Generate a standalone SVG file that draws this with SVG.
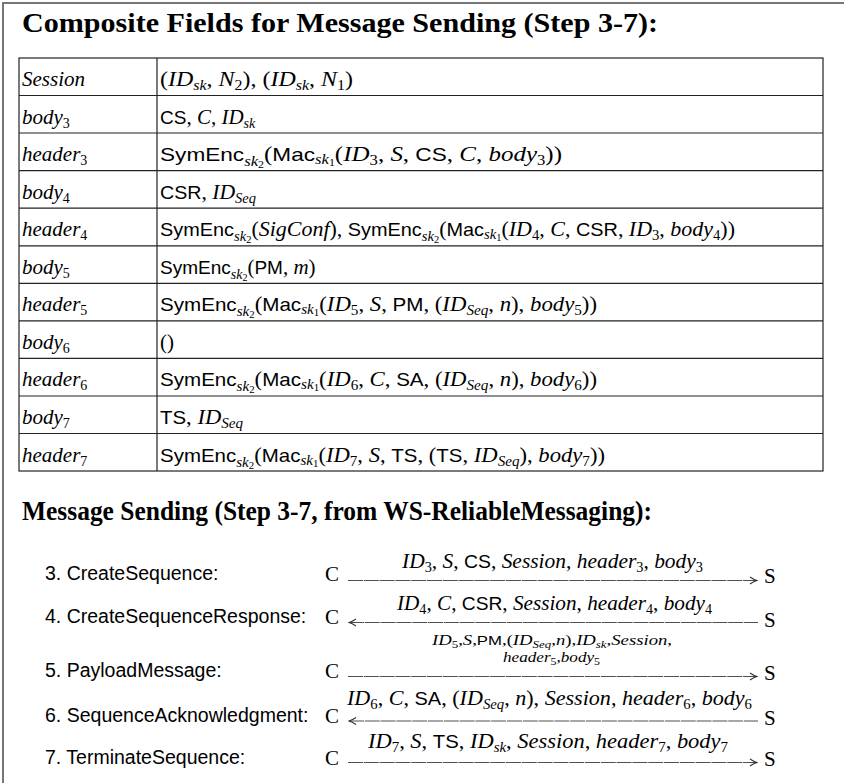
<svg xmlns="http://www.w3.org/2000/svg" width="844" height="783" viewBox="0 0 844 783">
  <style>
    text { font-family: "Liberation Serif", "Times New Roman", serif; font-size: 21px; fill: #000; }
    .i { font-style: italic; }
    .s { font-family: "Liberation Sans", Arial, sans-serif; font-style: normal; font-size: 19px; }
    .b { font-size: 14px; }
    .bb { font-size: 10px; }
    .ttl { font-weight: bold; font-size: 27px; }
    .step { font-family: "Liberation Sans", Arial, sans-serif; font-size: 19.5px; }
    .sm { font-size: 14.5px; }
    .sm .b { font-size: 10px; }
    .sm .s { font-size: 13px; }
    .grid { stroke: #222; stroke-width: 1.2; fill: none; }
    .arrow { stroke: #505050; stroke-width: 1.1; fill: none; stroke-dasharray: 15 0.8; }
  </style>
  <defs>
    <marker id="ah" viewBox="-8 -5 9 10" refX="0" refY="0" markerWidth="9" markerHeight="10" markerUnits="userSpaceOnUse" orient="auto-start-reverse">
      <path d="M-7,-3.5 Q-3,-0.8 0,0 Q-3,0.8 -7,3.5" fill="none" stroke="#333" stroke-width="1.1"/>
    </marker>
  </defs>

  <rect width="844" height="783" fill="#fff"/>
  <!-- outer frame: only its left and top edges fall inside the canvas -->
  <rect id="frame" x="3" y="3" width="860" height="800" fill="none" stroke="#777" stroke-width="2"/>

  <text class="ttl" x="22" y="32" textLength="636" lengthAdjust="spacingAndGlyphs">Composite Fields for Message Sending (Step 3-7):</text>

  <!-- composite field table -->
  <g id="table">
    <rect class="grid" x="19" y="58" width="804" height="413"/>
    <line class="grid" x1="157" y1="58" x2="157" y2="471"/>
    <path class="grid" d="M19,95.5H823M19,133H823M19,170.6H823M19,208.2H823M19,245.8H823M19,283.3H823M19,320.9H823M19,358.4H823M19,396H823M19,433.5H823"/>
  </g>

  <g id="row-session">
    <text x="22" y="86" class="i">Session</text>
    <text x="160" y="86" textLength="193" lengthAdjust="spacingAndGlyphs">(<tspan class="i">ID</tspan><tspan class="i b" dy="4">sk</tspan><tspan dy="-4">, </tspan><tspan class="i">N</tspan><tspan class="b" dy="4">2</tspan><tspan dy="-4">), (</tspan><tspan class="i">ID</tspan><tspan class="i b" dy="4">sk</tspan><tspan dy="-4">, </tspan><tspan class="i">N</tspan><tspan class="b" dy="4">1</tspan><tspan dy="-4">)</tspan></text>
  </g>
  <g id="row-body3">
    <text x="22" y="123.5"><tspan class="i">body</tspan><tspan class="b" dy="4">3</tspan></text>
    <text x="160" y="123.5"><tspan class="s">CS</tspan>, <tspan class="i">C</tspan>, <tspan class="i">ID</tspan><tspan class="i b" dy="4">sk</tspan></text>
  </g>
  <g id="row-header3">
    <text x="22" y="161"><tspan class="i">header</tspan><tspan class="b" dy="4">3</tspan></text>
    <text x="160" y="161" textLength="402" lengthAdjust="spacingAndGlyphs"><tspan class="s">SymEnc</tspan><tspan class="i b" dy="5">sk</tspan><tspan class="bb" dy="2">2</tspan><tspan dy="-7">(</tspan><tspan class="s">Mac</tspan><tspan class="i b" dy="3">sk</tspan><tspan class="bb" dy="2">1</tspan><tspan dy="-5">(</tspan><tspan class="i">ID</tspan><tspan class="b" dy="4">3</tspan><tspan dy="-4">, </tspan><tspan class="i">S</tspan>, <tspan class="s">CS</tspan>, <tspan class="i">C</tspan>, <tspan class="i">body</tspan><tspan class="b" dy="4">3</tspan><tspan dy="-4">))</tspan></text>
  </g>
  <g id="row-body4">
    <text x="22" y="198.6"><tspan class="i">body</tspan><tspan class="b" dy="4">4</tspan></text>
    <text x="160" y="198.6" textLength="96" lengthAdjust="spacingAndGlyphs"><tspan class="s">CSR</tspan>, <tspan class="i">ID</tspan><tspan class="i b" dy="4">Seq</tspan></text>
  </g>
  <g id="row-header4">
    <text x="22" y="236.2"><tspan class="i">header</tspan><tspan class="b" dy="4">4</tspan></text>
    <text x="160" y="236.2" textLength="575" lengthAdjust="spacingAndGlyphs"><tspan class="s">SymEnc</tspan><tspan class="i b" dy="5">sk</tspan><tspan class="bb" dy="2">2</tspan><tspan dy="-7">(</tspan><tspan class="i">SigConf</tspan>), <tspan class="s">SymEnc</tspan><tspan class="i b" dy="5">sk</tspan><tspan class="bb" dy="2">2</tspan><tspan dy="-7">(</tspan><tspan class="s">Mac</tspan><tspan class="i b" dy="3">sk</tspan><tspan class="bb" dy="2">1</tspan><tspan dy="-5">(</tspan><tspan class="i">ID</tspan><tspan class="b" dy="4">4</tspan><tspan dy="-4">, </tspan><tspan class="i">C</tspan>, <tspan class="s">CSR</tspan>, <tspan class="i">ID</tspan><tspan class="b" dy="4">3</tspan><tspan dy="-4">, </tspan><tspan class="i">body</tspan><tspan class="b" dy="4">4</tspan><tspan dy="-4">))</tspan></text>
  </g>
  <g id="row-body5">
    <text x="22" y="273.8"><tspan class="i">body</tspan><tspan class="b" dy="4">5</tspan></text>
    <text x="160" y="273.8"><tspan class="s">SymEnc</tspan><tspan class="i b" dy="5">sk</tspan><tspan class="bb" dy="2">2</tspan><tspan dy="-7">(</tspan><tspan class="s">PM</tspan>, <tspan class="i">m</tspan>)</text>
  </g>
  <g id="row-header5">
    <text x="22" y="311.3"><tspan class="i">header</tspan><tspan class="b" dy="4">5</tspan></text>
    <text x="160" y="311.3" textLength="437" lengthAdjust="spacingAndGlyphs"><tspan class="s">SymEnc</tspan><tspan class="i b" dy="5">sk</tspan><tspan class="bb" dy="2">2</tspan><tspan dy="-7">(</tspan><tspan class="s">Mac</tspan><tspan class="i b" dy="3">sk</tspan><tspan class="bb" dy="2">1</tspan><tspan dy="-5">(</tspan><tspan class="i">ID</tspan><tspan class="b" dy="4">5</tspan><tspan dy="-4">, </tspan><tspan class="i">S</tspan>, <tspan class="s">PM</tspan>, (<tspan class="i">ID</tspan><tspan class="i b" dy="4">Seq</tspan><tspan dy="-4">, </tspan><tspan class="i">n</tspan>), <tspan class="i">body</tspan><tspan class="b" dy="4">5</tspan><tspan dy="-4">))</tspan></text>
  </g>
  <g id="row-body6">
    <text x="22" y="348.9"><tspan class="i">body</tspan><tspan class="b" dy="4">6</tspan></text>
    <text x="160" y="348.9">()</text>
  </g>
  <g id="row-header6">
    <text x="22" y="386.4"><tspan class="i">header</tspan><tspan class="b" dy="4">6</tspan></text>
    <text x="160" y="386.4" textLength="437" lengthAdjust="spacingAndGlyphs"><tspan class="s">SymEnc</tspan><tspan class="i b" dy="5">sk</tspan><tspan class="bb" dy="2">2</tspan><tspan dy="-7">(</tspan><tspan class="s">Mac</tspan><tspan class="i b" dy="3">sk</tspan><tspan class="bb" dy="2">1</tspan><tspan dy="-5">(</tspan><tspan class="i">ID</tspan><tspan class="b" dy="4">6</tspan><tspan dy="-4">, </tspan><tspan class="i">C</tspan>, <tspan class="s">SA</tspan>, (<tspan class="i">ID</tspan><tspan class="i b" dy="4">Seq</tspan><tspan dy="-4">, </tspan><tspan class="i">n</tspan>), <tspan class="i">body</tspan><tspan class="b" dy="4">6</tspan><tspan dy="-4">))</tspan></text>
  </g>
  <g id="row-body7">
    <text x="22" y="424"><tspan class="i">body</tspan><tspan class="b" dy="4">7</tspan></text>
    <text x="160" y="424" textLength="83" lengthAdjust="spacingAndGlyphs"><tspan class="s">TS</tspan>, <tspan class="i">ID</tspan><tspan class="i b" dy="4">Seq</tspan></text>
  </g>
  <g id="row-header7">
    <text x="22" y="461.5"><tspan class="i">header</tspan><tspan class="b" dy="4">7</tspan></text>
    <text x="160" y="461.5" textLength="445" lengthAdjust="spacingAndGlyphs"><tspan class="s">SymEnc</tspan><tspan class="i b" dy="5">sk</tspan><tspan class="bb" dy="2">2</tspan><tspan dy="-7">(</tspan><tspan class="s">Mac</tspan><tspan class="i b" dy="3">sk</tspan><tspan class="bb" dy="2">1</tspan><tspan dy="-5">(</tspan><tspan class="i">ID</tspan><tspan class="b" dy="4">7</tspan><tspan dy="-4">, </tspan><tspan class="i">S</tspan>, <tspan class="s">TS</tspan>, (<tspan class="s">TS</tspan>, <tspan class="i">ID</tspan><tspan class="i b" dy="4">Seq</tspan><tspan dy="-4">), </tspan><tspan class="i">body</tspan><tspan class="b" dy="4">7</tspan><tspan dy="-4">))</tspan></text>
  </g>

  <text class="ttl" x="22" y="520" textLength="630" lengthAdjust="spacingAndGlyphs">Message Sending (Step 3-7, from WS-ReliableMessaging):</text>

  <!-- message arrows between C and S -->
  <g id="connectors">
    <line class="arrow" x1="348" y1="580.5" x2="757" y2="580.5" marker-end="url(#ah)"/>
    <line class="arrow" x1="349" y1="622.5" x2="758" y2="622.5" marker-start="url(#ah)"/>
    <line class="arrow" x1="348" y1="676.5" x2="757" y2="676.5" marker-end="url(#ah)"/>
    <line class="arrow" x1="349" y1="721" x2="758" y2="721" marker-start="url(#ah)"/>
    <line class="arrow" x1="348" y1="762.5" x2="757" y2="762.5" marker-end="url(#ah)"/>
  </g>

  <g id="msg3">
    <text class="step" x="45" y="580">3. CreateSequence:</text>
    <text x="325" y="581">C</text>
    <text x="764" y="583">S</text>
    <text x="402" y="568" textLength="301" lengthAdjust="spacingAndGlyphs"><tspan class="i">ID</tspan><tspan class="b" dy="4">3</tspan><tspan dy="-4">, </tspan><tspan class="i">S</tspan>, <tspan class="s">CS</tspan>, <tspan class="i">Session</tspan>, <tspan class="i">header</tspan><tspan class="b" dy="4">3</tspan><tspan dy="-4">, </tspan><tspan class="i">body</tspan><tspan class="b" dy="4">3</tspan></text>
  </g>
  <g id="msg4">
    <text class="step" x="45" y="623">4. CreateSequenceResponse:</text>
    <text x="325" y="624">C</text>
    <text x="764" y="627">S</text>
    <text x="397" y="610" textLength="315" lengthAdjust="spacingAndGlyphs"><tspan class="i">ID</tspan><tspan class="b" dy="4">4</tspan><tspan dy="-4">, </tspan><tspan class="i">C</tspan>, <tspan class="s">CSR</tspan>, <tspan class="i">Session</tspan>, <tspan class="i">header</tspan><tspan class="b" dy="4">4</tspan><tspan dy="-4">, </tspan><tspan class="i">body</tspan><tspan class="b" dy="4">4</tspan></text>
  </g>
  <g id="msg5">
    <text class="step" x="45" y="677">5. PayloadMessage:</text>
    <text x="325" y="678">C</text>
    <text x="764" y="680">S</text>
    <text class="sm" x="432" y="645" textLength="240" lengthAdjust="spacingAndGlyphs"><tspan class="i">ID</tspan><tspan class="b" dy="2.5">5</tspan><tspan dy="-2.5">,</tspan><tspan class="i">S</tspan>,<tspan class="s">PM</tspan>,(<tspan class="i">ID</tspan><tspan class="i b" dy="2.5">Seq</tspan><tspan dy="-2.5">,</tspan><tspan class="i">n</tspan>),<tspan class="i">ID</tspan><tspan class="i b" dy="2.5">sk</tspan><tspan dy="-2.5">,</tspan><tspan class="i">Session</tspan>,</text>
    <text class="sm" x="503" y="662" textLength="97" lengthAdjust="spacingAndGlyphs"><tspan class="i">header</tspan><tspan class="b" dy="2.5">5</tspan><tspan dy="-2.5">,</tspan><tspan class="i">body</tspan><tspan class="b" dy="2.5">5</tspan></text>
  </g>
  <g id="msg6">
    <text class="step" x="45" y="722">6. SequenceAcknowledgment:</text>
    <text x="325" y="723">C</text>
    <text x="764" y="725">S</text>
    <text x="347" y="705" textLength="405" lengthAdjust="spacingAndGlyphs"><tspan class="i">ID</tspan><tspan class="b" dy="4">6</tspan><tspan dy="-4">, </tspan><tspan class="i">C</tspan>, <tspan class="s">SA</tspan>, (<tspan class="i">ID</tspan><tspan class="i b" dy="4">Seq</tspan><tspan dy="-4">, </tspan><tspan class="i">n</tspan>), <tspan class="i">Session</tspan>, <tspan class="i">header</tspan><tspan class="b" dy="4">6</tspan><tspan dy="-4">, </tspan><tspan class="i">body</tspan><tspan class="b" dy="4">6</tspan></text>
  </g>
  <g id="msg7">
    <text class="step" x="45" y="764">7. TerminateSequence:</text>
    <text x="325" y="765">C</text>
    <text x="764" y="766">S</text>
    <text x="368" y="748" textLength="360" lengthAdjust="spacingAndGlyphs"><tspan class="i">ID</tspan><tspan class="b" dy="4">7</tspan><tspan dy="-4">, </tspan><tspan class="i">S</tspan>, <tspan class="s">TS</tspan>, <tspan class="i">ID</tspan><tspan class="i b" dy="4">sk</tspan><tspan dy="-4">, </tspan><tspan class="i">Session</tspan>, <tspan class="i">header</tspan><tspan class="b" dy="4">7</tspan><tspan dy="-4">, </tspan><tspan class="i">body</tspan><tspan class="b" dy="4">7</tspan></text>
  </g>
</svg>
